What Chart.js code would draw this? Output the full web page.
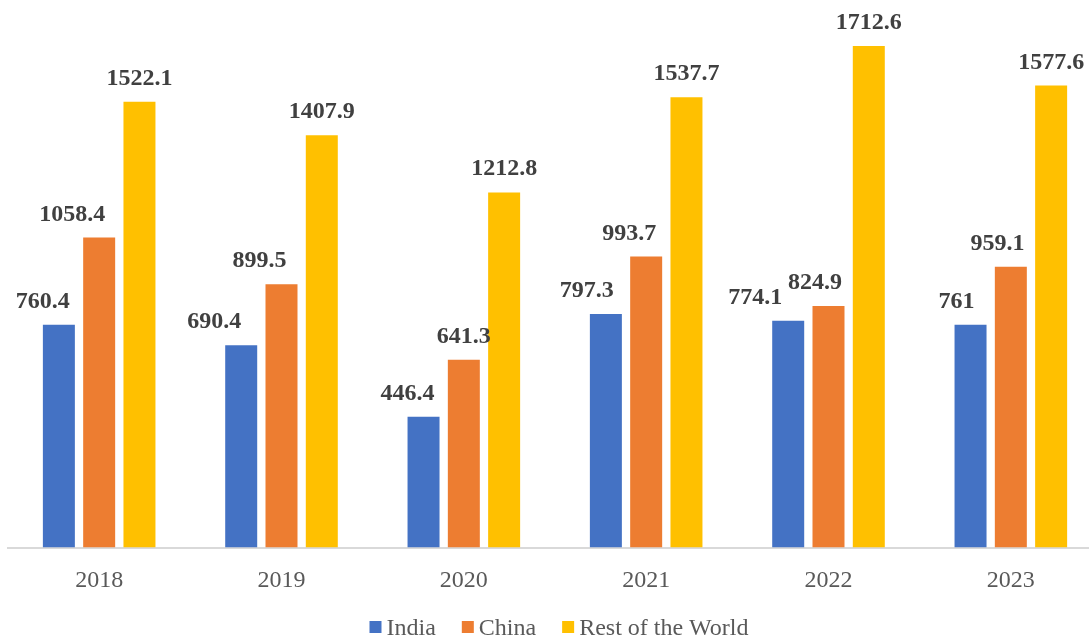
<!DOCTYPE html>
<html>
<head>
<meta charset="utf-8">
<title>Exports by region</title>
<script src="https://cdn.jsdelivr.net/npm/chart.js@4.4.1/dist/chart.umd.min.js"></script>
<style>
  html, body { margin: 0; padding: 0; background: #fff; overflow: hidden; }
  #wrap { width: 1110px; height: 639px; }
</style>
</head>
<body>
<div id="wrap"><canvas id="chart" width="1110" height="639"></canvas></div>
<script>
'use strict';

const years       = ['2018', '2019', '2020', '2021', '2022', '2023'];
const india       = [760.4, 690.4, 446.4, 797.3, 774.1, 761];
const china       = [1058.4, 899.5, 641.3, 993.7, 824.9, 959.1];
const restOfWorld = [1522.1, 1407.9, 1212.8, 1537.7, 1712.6, 1577.6];
const seriesNames = ['India', 'China', 'Rest of the World'];

const seriesColors = ['#4472C4', '#ED7D31', '#FFC000'];
// sideways nudge for value labels that would otherwise collide
const labelNudge = [
  [-16, -27, -16, -19, -33, -14],
  [-27, -22, 0, -17, -13.5, -13.4],
  [0, 0, 0, 0, 0, 0],
];

const SERIF = '"Liberation Serif", "Times New Roman", serif';

const valueLabels = {
  id: 'valueLabels',
  afterDatasetsDraw(chart) {
    const { ctx } = chart;
    ctx.save();
    ctx.font = `bold 24px ${SERIF}`;
    ctx.fillStyle = '#404040';
    ctx.textAlign = 'center';
    ctx.textBaseline = 'alphabetic';
    chart.data.datasets.forEach((ds, i) => {
      chart.getDatasetMeta(i).data.forEach((bar, j) => {
        ctx.fillText(String(ds.data[j]), bar.x + labelNudge[i][j], bar.y - 17);
      });
    });
    ctx.restore();
  },
};

// legend drawn by hand so the swatch/text spacing stays tight
const bottomLegend = {
  id: 'bottomLegend',
  afterDraw(chart) {
    const { ctx, chartArea } = chart;
    const box = 12, gap = 5, spacing = 26, baseline = 635;
    ctx.save();
    ctx.font = `24px ${SERIF}`;
    ctx.textBaseline = 'alphabetic';
    ctx.textAlign = 'left';
    const widths = chart.data.datasets.map((ds) => ctx.measureText(ds.label).width);
    const total = widths.reduce((s, w) => s + box + gap + w, 0) + spacing * (widths.length - 1);
    let x = (chartArea.left + chartArea.right) / 2 + 4 - total / 2;
    chart.data.datasets.forEach((ds, i) => {
      ctx.fillStyle = ds.backgroundColor;
      ctx.fillRect(x, baseline - 14, box, box);
      x += box + gap;
      ctx.fillStyle = '#595959';
      ctx.fillText(ds.label, x, baseline);
      x += widths[i] + spacing;
    });
    ctx.restore();
  },
};

const series = [india, china, restOfWorld];

new Chart(document.getElementById('chart'), {
  type: 'bar',
  data: {
    labels: years,
    datasets: series.map((data, i) => ({
      label: seriesNames[i],
      data,
      backgroundColor: seriesColors[i],
      borderWidth: 0,
      categoryPercentage: 0.663,
      barPercentage: 0.794,
    })),
  },
  options: {
    responsive: false,
    animation: false,
    devicePixelRatio: 1,
    layout: { padding: { top: 20.5, left: 8, right: 8, bottom: 0 } },
    plugins: { legend: { display: false }, tooltip: { enabled: false } },
    scales: {
      x: {
        grid: { display: false, drawTicks: false },
        border: { display: true, color: '#d9d9d9', width: 2 },
        ticks: { color: '#595959', font: { family: SERIF, size: 24 }, padding: 19 },
        afterFit: (s) => { s.height = 639 - 547.5; },
      },
      y: { display: false, min: 0, max: 1800 },
    },
  },
  plugins: [valueLabels, bottomLegend],
});
</script>
</body>
</html>
